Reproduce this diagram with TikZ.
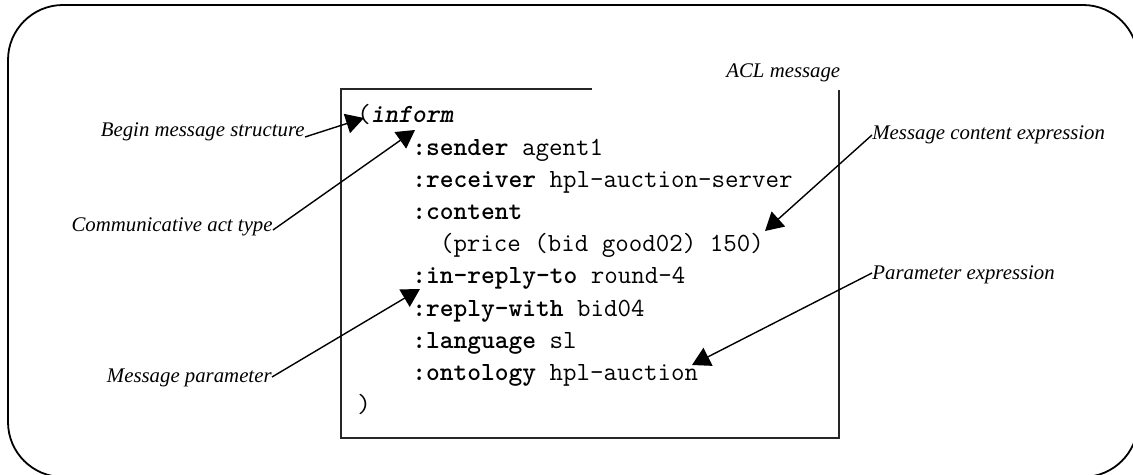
\documentclass[tikz,border=0pt]{standalone}
\usepackage{fontspec}
\setmainfont{Liberation Serif}
\usetikzlibrary{arrows.meta}
\begin{document}
\begin{tikzpicture}[x=0.5pt,y=-0.5pt,
  callout/.style={font=\fontsize{10.4}{12}\selectfont\itshape, inner sep=0pt},
  codeline/.style={font=\fontsize{13.1}{15}\selectfont\ttfamily, inner sep=0pt, anchor=base west},
  pointer/.style={line width=0.7pt, -{Triangle[length=9pt,width=10pt]}},
  boxline/.style={line width=0.55pt, black!85},
  frame/.style={line width=0.9pt, rounded corners=27.5pt}]
\useasboundingbox (0,0) rectangle (1133,475);
\clip (0,0) rectangle (1133,475);

% outer rounded frame (runs past the page on the right and bottom)
\draw[frame] (8,5) rectangle (1138,477);

% message box, open at the top right where its caption sits
\draw[boxline] (592,89) -- (341,89) -- (341,438) -- (839,438) -- (839,90);
\node[callout, anchor=base west] (acl) at (726,78) {ACL message};

% the ACL message text
\node[codeline] (l1)  at (357,123)   {({\bfseries\slshape inform}};
\node[codeline] (l2)  at (412,155.2) {\textbf{:sender} agent1};
\node[codeline] (l3)  at (412,187.4) {\textbf{:receiver} hpl-auction-server};
\node[codeline] (l4)  at (412,219.6) {\textbf{:content}};
\node[codeline] (l5)  at (439.6,251.8) {(price (bid good02) 150)};
\node[codeline] (l6)  at (412,284)   {\textbf{:in-reply-to} round-4};
\node[codeline] (l7)  at (412,316.2) {\textbf{:reply-with} bid04};
\node[codeline] (l8)  at (412,348.4) {\textbf{:language} sl};
\node[codeline] (l9)  at (412,380.6) {\textbf{:ontology} hpl-auction};
\node[codeline] (l10) at (357,412.8) {)};

% callout labels
\node[callout, anchor=base east] (begin)     at (305,137) {Begin message structure};
\node[callout, anchor=base east] (acttype)   at (273,232) {Communicative act type};
\node[callout, anchor=base east] (msgparam)  at (272,382) {Message parameter};
\node[callout, anchor=base west] (contentex) at (872,140) {Message content expression};
\node[callout, anchor=base west] (paramex)   at (872,280) {Parameter expression};

% points the callouts refer to
\coordinate (tbegin)   at (364,118);
\coordinate (tact)     at (415,130);
\coordinate (tparam)   at (420,289);
\coordinate (tcontent) at (765,231);
\coordinate (tpexpr)   at (692,365);

\draw[pointer] (begin.base east) -- (tbegin);
\draw[pointer] ([yshift=1pt]acttype.base east) -- (tact);
\draw[pointer] ([yshift=2.5pt]msgparam.base east) -- (tparam);
\draw[pointer] ([yshift=2.5pt]contentex.base west) -- (tcontent);
\draw[pointer] ([yshift=3.5pt]paramex.base west) -- (tpexpr);
\end{tikzpicture}
\end{document}
